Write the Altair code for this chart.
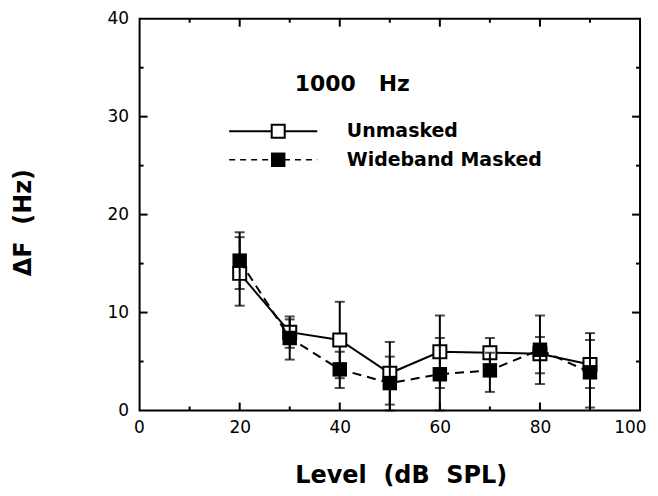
import altair as alt
import pandas as pd

# ---- data ----
levels = [20, 30, 40, 50, 60, 70, 80, 90]
unmasked = [14.0, 8.0, 7.2, 3.8, 6.0, 5.9, 5.8, 4.7]
unmasked_lo = [10.7, 6.4, 3.3, 0.6, 2.3, 4.4, 3.8, 2.3]
unmasked_hi = [17.7, 9.6, 11.1, 7.0, 9.7, 7.4, 7.5, 7.9]
masked = [15.3, 7.4, 4.2, 2.8, 3.7, 4.1, 6.2, 3.9]
masked_lo = [12.4, 5.2, 2.3, 0.0, 0.0, 1.9, 2.7, 0.3]
masked_hi = [18.2, 9.3, 6.0, 5.5, 7.4, 5.9, 9.7, 7.2]

x_labels = [0, 20, 40, 60, 80, 100]
y_labels = [0, 10, 20, 30, 40]
x_major = [20, 40, 60, 80]
x_minor = [10, 30, 50, 70, 90]
y_major = [10, 20, 30]
y_minor = [5, 15, 25, 35]

NB = "\u00a0"
# legend / annotation positions (data units)
legend_names = ["Unmasked", "Wideband Masked"]
legend_y = [28.5, 25.6]
legend_x0, legend_x1, legend_xm, legend_tx = 17.9, 35.5, 27.7, 41.4
title_text = ["1000" + NB * 3 + "Hz"]
title_pos = [42.5, 33.3]
x_title = "Level" + NB * 2 + "(dB" + NB * 2 + "SPL)"
y_title = "ΔF" + NB * 2 + "(Hz)"

W, H = 502, 393
FONT = "DejaVu Sans"

xs = alt.Scale(domain=[0, 100], nice=False, zero=False)
ys = alt.Scale(domain=[0, 40], nice=False, zero=False)

df_u = pd.DataFrame({"level": levels, "val": unmasked, "lo": unmasked_lo, "hi": unmasked_hi})
df_m = pd.DataFrame({"level": levels, "val": masked, "lo": masked_lo, "hi": masked_hi})

axis_style = dict(labelFont=FONT, labelFontSize=17, labelColor="black",
                  titleFont=FONT, titleFontSize=24, titleFontWeight="bold", titleColor="black",
                  ticks=False, domain=False, grid=False)

X = alt.X("level:Q", scale=xs,
          axis=alt.Axis(values=x_labels, title=x_title, labelPadding=9,
                        labelFlush=True, labelFlushOffset=6,
                        titleX=262, titleY=72, titleAlign="center", titleBaseline="alphabetic",
                        **axis_style))
Y = alt.Y("val:Q", scale=ys,
          axis=alt.Axis(values=y_labels, title=y_title, labelPadding=11, labelFlush=False,
                        titleAngle=270, titleX=-116, titleY=204,
                        titleAlign="center", titleBaseline="middle",
                        **axis_style))

layers = []

# inward ticks
def vticks(vals, ln):
    d = pd.DataFrame({"t": vals})
    b = alt.Chart(d).mark_rule(color="black", strokeWidth=2).encode(
        x=alt.X("t:Q", scale=xs), y=alt.value(H), y2=alt.value(H - ln))
    t = alt.Chart(d).mark_rule(color="black", strokeWidth=2).encode(
        x=alt.X("t:Q", scale=xs), y=alt.value(0), y2=alt.value(ln))
    return [b, t]

def hticks(vals, ln):
    d = pd.DataFrame({"t": vals})
    l = alt.Chart(d).mark_rule(color="black", strokeWidth=2).encode(
        y=alt.Y("t:Q", scale=ys), x=alt.value(0), x2=alt.value(ln))
    r = alt.Chart(d).mark_rule(color="black", strokeWidth=2).encode(
        y=alt.Y("t:Q", scale=ys), x=alt.value(W), x2=alt.value(W - ln))
    return [l, r]

layers += vticks(x_major, 8) + vticks(x_minor, 4) + hticks(y_major, 8) + hticks(y_minor, 4)

def series(df, dash, filled):
    base = alt.Chart(df)
    err = base.mark_rule(color="black", strokeWidth=2).encode(
        x=alt.X("level:Q", scale=xs), y=alt.Y("lo:Q", scale=ys), y2="hi:Q")
    cap_lo = base.mark_tick(color="black", orient="horizontal", size=10, thickness=2).encode(
        x=alt.X("level:Q", scale=xs), y=alt.Y("lo:Q", scale=ys))
    cap_hi = base.mark_tick(color="black", orient="horizontal", size=10, thickness=2).encode(
        x=alt.X("level:Q", scale=xs), y=alt.Y("hi:Q", scale=ys))
    line_kw = dict(color="black", strokeWidth=2)
    if dash:
        line_kw["strokeDash"] = [9, 6]
    line = base.mark_line(**line_kw).encode(x=X, y=Y)
    if filled:
        pts = base.mark_square(size=210, filled=True, color="black", opacity=1).encode(x=X, y=Y)
    else:
        pts = base.mark_square(size=170, filled=True, fill="white", stroke="black",
                               strokeWidth=2, opacity=1).encode(x=X, y=Y)
    return [err, cap_lo, cap_hi, line, pts]

layers += series(df_u, False, False)
layers += series(df_m, True, True)

# legend
leg_lines = pd.DataFrame({"x": [legend_x0, legend_x1], "y": [legend_y[0]] * 2})
leg_lines2 = pd.DataFrame({"x": [legend_x0, legend_x1], "y": [legend_y[1]] * 2})
layers.append(alt.Chart(leg_lines).mark_line(color="black", strokeWidth=2).encode(
    x=alt.X("x:Q", scale=xs), y=alt.Y("y:Q", scale=ys)))
layers.append(alt.Chart(leg_lines2).mark_line(color="black", strokeWidth=1.5, strokeDash=[6, 5]).encode(
    x=alt.X("x:Q", scale=xs), y=alt.Y("y:Q", scale=ys)))
layers.append(alt.Chart(pd.DataFrame({"x": [legend_xm], "y": [legend_y[0]]})).mark_square(
    size=170, filled=True, fill="white", stroke="black", strokeWidth=2, opacity=1).encode(
    x=alt.X("x:Q", scale=xs), y=alt.Y("y:Q", scale=ys)))
layers.append(alt.Chart(pd.DataFrame({"x": [legend_xm], "y": [legend_y[1]]})).mark_square(
    size=210, filled=True, color="black", opacity=1).encode(
    x=alt.X("x:Q", scale=xs), y=alt.Y("y:Q", scale=ys)))
layers.append(alt.Chart(pd.DataFrame({"x": [legend_tx] * 2, "y": legend_y, "t": legend_names})).mark_text(
    font=FONT, fontSize=19, fontWeight="bold", align="left", baseline="middle", color="black").encode(
    x=alt.X("x:Q", scale=xs), y=alt.Y("y:Q", scale=ys), text="t:N"))
layers.append(alt.Chart(pd.DataFrame({"x": [title_pos[0]], "y": [title_pos[1]], "t": title_text})).mark_text(
    font=FONT, fontSize=22, fontWeight="bold", align="center", baseline="middle", color="black").encode(
    x=alt.X("x:Q", scale=xs), y=alt.Y("y:Q", scale=ys), text="t:N"))

chart = alt.layer(*layers).properties(
    width=W, height=H,
    autosize=alt.AutoSizeParams(type="none"),
    padding={"left": 132, "top": 10, "right": 10, "bottom": 80},
).configure(background="white").configure_view(stroke="black", strokeWidth=2)

chart.save("out.html", embed_options={"renderer": "svg", "actions": False})
